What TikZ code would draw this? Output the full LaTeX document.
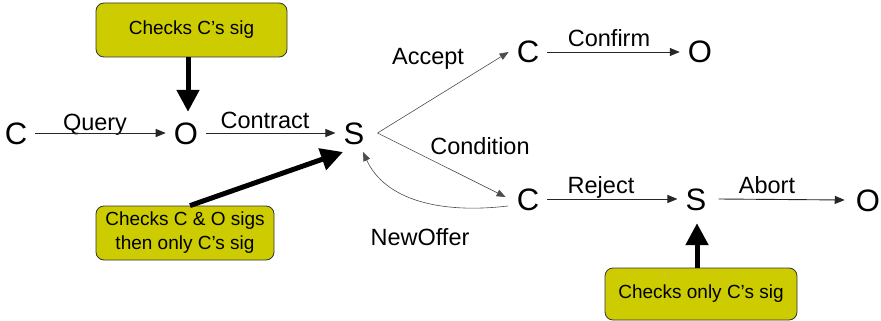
\documentclass[tikz,border=0pt]{standalone}
\usepackage{fontspec}
\setmainfont{Liberation Sans}
\usetikzlibrary{arrows.meta}
\definecolor{boxyellow}{RGB}{204,204,0}
\begin{document}
\begin{tikzpicture}[x=1pt,y=-1pt,
  letter/.style={font=\fontsize{31}{31}\selectfont, inner xsep=8pt, inner ysep=0pt, text height=22pt, text depth=0pt},
  lbl/.style={font=\fontsize{23.5}{24}\selectfont, anchor=base, inner sep=0pt},
  note/.style={draw=black!80, line width=0.8pt, fill=boxyellow, rounded corners=8pt,
    font=\fontsize{19}{24}\selectfont, align=center, inner sep=0pt},
  flow/.style={-{Triangle[width=8pt,length=10pt]}, line width=0.9pt, draw=black!85},
  branch/.style={-{Triangle[width=7pt,length=9pt]}, line width=0.6pt, draw=black!70},
  bigarrow/.style={-{Triangle[width=22pt,length=22pt]}, line width=5pt, draw=black}]
\useasboundingbox (0,0) rectangle (881,321);

% letters
\node[letter] (C1) at (16,133) {C};
\node[letter] (O1) at (186,133) {O};
\node[letter] (S1) at (354,133) {S};
\node[letter] (C2) at (528,52) {C};
\node[letter] (O2) at (700,52) {O};
\node[letter] (C3) at (528,199) {C};
\node[letter] (S2) at (696,199) {S};
\node[letter] (O3) at (868,200) {O};

% notes
\node[note, minimum width=191pt, minimum height=54pt] (N1) at (191.5,30) {Checks C’s sig};
\node[note, minimum width=178pt, minimum height=54pt] (N2) at (185,233) {Checks C \& O sigs\\then only C’s sig};
\node[note, minimum width=192pt, minimum height=52pt] (N3) at (701,294) {Checks only C’s sig};

% labels
\node[lbl] (lq) at (95,130) {Query};
\node[lbl] (lc) at (265,128) {Contract};
\node[lbl] (la) at (428,64) {Accept};
\node[lbl] (lf) at (609,47) {Confirm};
\node[lbl] (ld) at (480,154) {Condition};
\node[lbl] (lr) at (601,193) {Reject};
\node[lbl] (lb) at (767,193) {Abort};
\node[lbl] (ln) at (420,245) {NewOffer};

% flows
\draw[flow] (C1.east) -- (O1.west);
\draw[flow] (O1.east) -- (S1.west);
\draw[flow] (C2.east) -- (O2.west);
\draw[flow] (C3.east) -- (S2.west);
\draw[flow] ([xshift=4pt]S2.east) -- ([xshift=-3pt]O3.west);

\draw[branch] ([xshift=5pt]S1.east) -- (C2.west);
\draw[branch] ([xshift=5pt]S1.east) -- ([xshift=-3pt,yshift=2pt]C3.west);
\draw[branch] ([xshift=-20pt,yshift=-7pt]C3.center) .. controls (440,214) and (385,200) .. ([xshift=9pt,yshift=-19pt]S1.center);

% thick arrows
\draw[bigarrow, shorten >=10pt] ([xshift=-3.5pt]N1.south) -- ([xshift=2pt]O1.north);
\draw[bigarrow] ([xshift=5pt]N2.north) -- ([xshift=-11pt,yshift=-19pt]S1.center);
\draw[bigarrow, shorten >=13pt] ([xshift=-4pt]N3.north) -- ([xshift=1pt]S2.south);
\end{tikzpicture}
\end{document}
